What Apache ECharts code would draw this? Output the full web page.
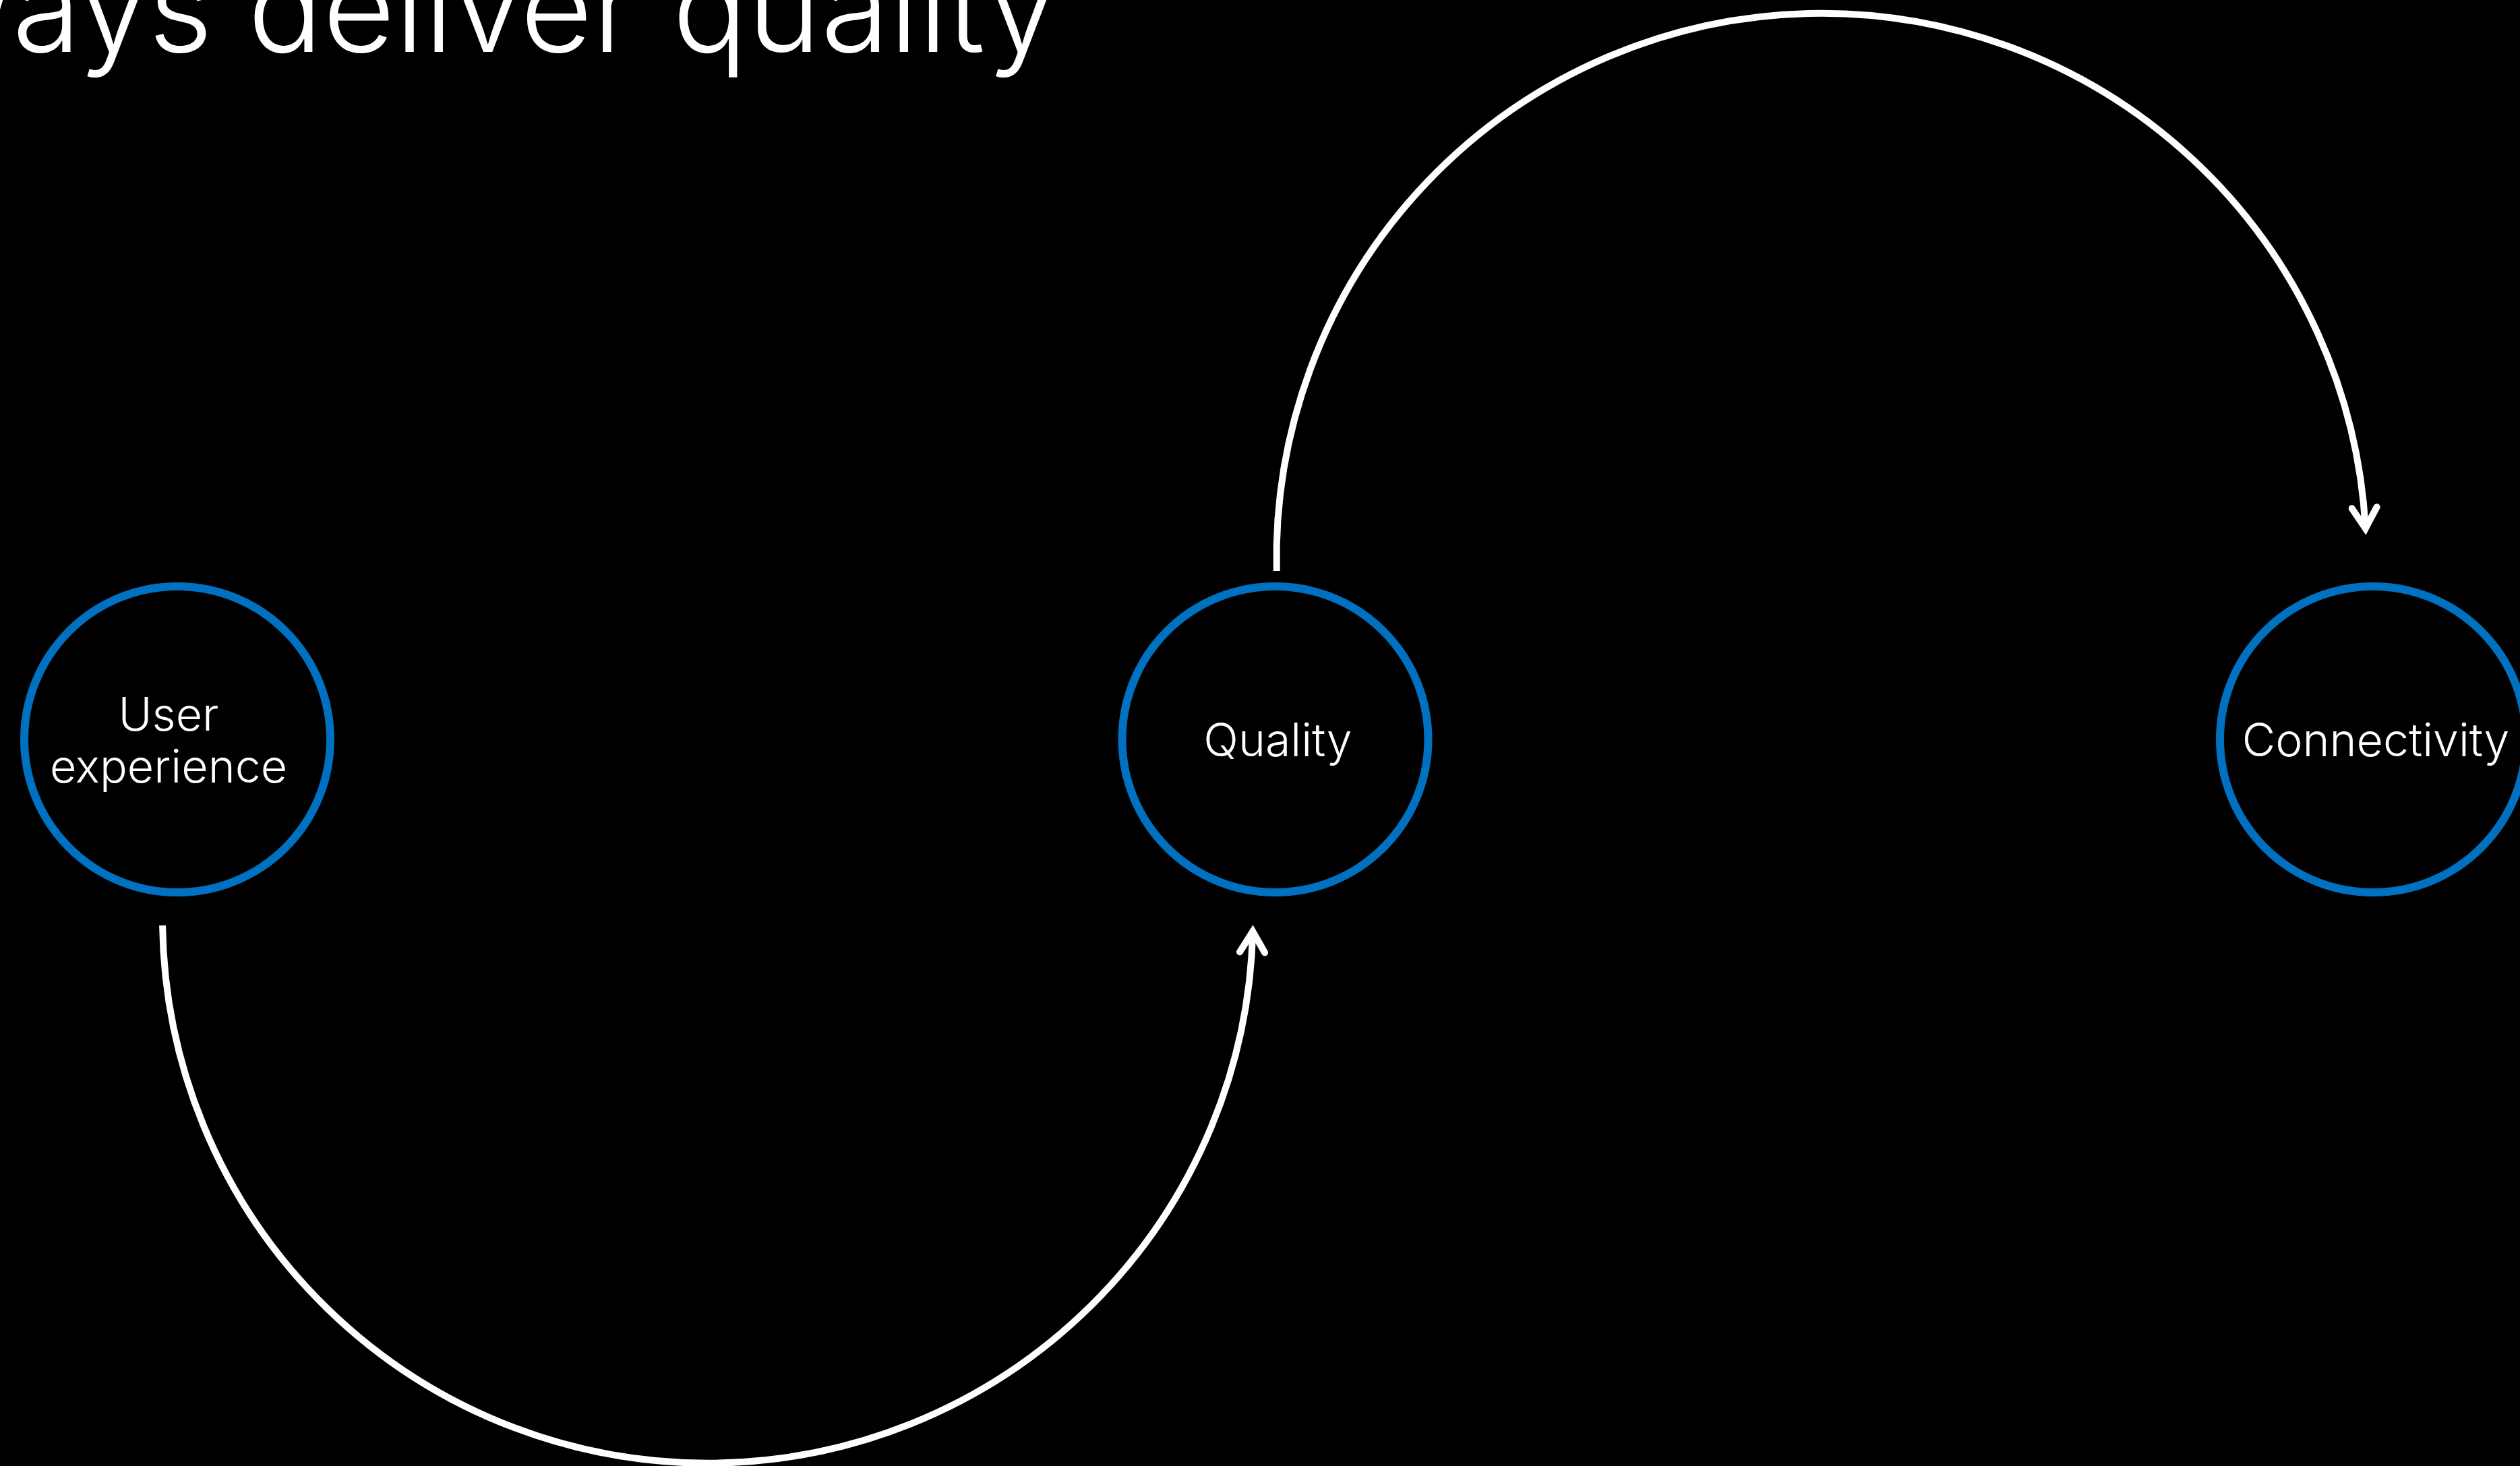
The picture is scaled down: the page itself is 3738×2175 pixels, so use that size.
<!DOCTYPE html>
<html>
<head>
<meta charset="utf-8">
<title>Always deliver quality</title>
<script src="https://cdn.jsdelivr.net/npm/echarts@6/dist/echarts.min.js"></script>
<style>
  html, body { margin: 0; padding: 0; background: #000; }
  #chart { width: 3738px; height: 2175px; }
</style>
</head>
<body>
<div id="chart"></div>
<script>
// stages, left to right
const stages = ['User\nexperience', 'Quality', 'Connectivity'];

// arrows between stages
const flowFrom = [0, 1];
const flowTo = [1, 2];
const flowSide = ['below', 'above'];

const titleText = 'Always deliver quality';
const titleVisible = 'ays deliver quality';

const blue = '#0070C0';

// pixel nudges of each arrow relative to the node centres
// dx0/dy0: tail, dx1/dy1: head, cy: centre line of the bend
const flowGeom = {
  below: { dx0: -22, dy0: 276, dx1: -33, dy1: 285, cy: 265 },
  above: { dx0: 2, dy0: -250, dx1: -10, dy1: -313, cy: -269 }
};

const chart = echarts.init(document.getElementById('chart'));

function renderFlow(params, api) {
  const side = flowSide[params.dataIndex];
  const g = flowGeom[side];
  const a = api.coord([api.value(0), 0]);
  const b = api.coord([api.value(1), 0]);
  const x0 = a[0] + g.dx0, y0 = a[1] + g.dy0;
  const x1 = b[0] + g.dx1, y1 = b[1] + g.dy1;
  const cx = (x0 + x1) / 2;
  const cy = a[1] + g.cy;
  const r = (x1 - x0) / 2;
  const t0 = Math.PI - Math.asin((y0 - cy) / r);
  const t1 = Math.asin((y1 - cy) / r);
  const cw = side === 'above';
  const hx = cx + r * Math.cos(t1), hy = cy + r * Math.sin(t1);
  const dir = cw ? [-Math.sin(t1), Math.cos(t1)] : [Math.sin(t1), -Math.cos(t1)];

  // open chevron head
  const len = 36, ang = 31 * Math.PI / 180;
  const wing = s => {
    const c = Math.cos(s * ang), sn = Math.sin(s * ang);
    const bx = -dir[0], by = -dir[1];
    return [hx + len * (bx * c - by * sn), hy + len * (bx * sn + by * c)];
  };

  return {
    type: 'group',
    children: [
      {
        type: 'arc',
        shape: { cx: cx, cy: cy, r: r, startAngle: t0, endAngle: cw ? t1 + Math.PI * 2 : t1, clockwise: cw },
        style: { stroke: '#fff', fill: 'none', lineWidth: 10 }
      },
      {
        type: 'polyline',
        shape: { points: [wing(1), [hx, hy], wing(-1)] },
        style: { stroke: '#fff', fill: 'none', lineWidth: 10, lineCap: 'round', lineJoin: 'miter' }
      }
    ]
  };
}

// place the cut-off title so its visible part sits where the slide has it
const titleSize = 185;
const titleFont = '300 ' + titleSize + 'px Inter';
const ctx = document.createElement('canvas').getContext('2d');
ctx.font = titleFont;
const lead = ctx.measureText(titleText.slice(0, titleText.length - titleVisible.length)).width;
const visW = ctx.measureText(titleVisible).width;
const titleX = 793 - visW / 2 - lead;

const option = {
  backgroundColor: '#000',
  animation: false,
  grid: { left: 263, right: 218, top: 19, bottom: 0 },
  xAxis: { type: 'category', data: stages, boundaryGap: false, show: false },
  yAxis: { type: 'value', min: -1, max: 1, show: false },
  graphic: [{
    type: 'text',
    x: titleX,
    y: 89 - titleSize * 0.3635,
    style: {
      text: titleText,
      font: titleFont,
      fill: '#fff',
      textAlign: 'left',
      verticalAlign: 'middle'
    }
  }],
  series: [
    {
      type: 'custom',
      renderItem: renderFlow,
      data: flowFrom.map((f, i) => [f, flowTo[i]]),
      clip: false,
      silent: true,
      z: 2
    },
    {
      type: 'scatter',
      data: stages.map((name, i) => ({
        name: name,
        value: [i, 0],
        label: { offset: [i === 0 ? -13 : 4, 5] }
      })),
      symbol: 'circle',
      symbolSize: 454,
      itemStyle: { color: '#000', borderColor: blue, borderWidth: 12, opacity: 1 },
      label: {
        show: true,
        position: 'inside',
        formatter: '{b}',
        color: '#fff',
        fontFamily: 'Inter',
        fontWeight: 300,
        fontSize: 68,
        lineHeight: 77
      },
      emphasis: { disabled: true },
      silent: true,
      z: 3
    }
  ]
};

chart.setOption(option);
</script>
</body>
</html>
